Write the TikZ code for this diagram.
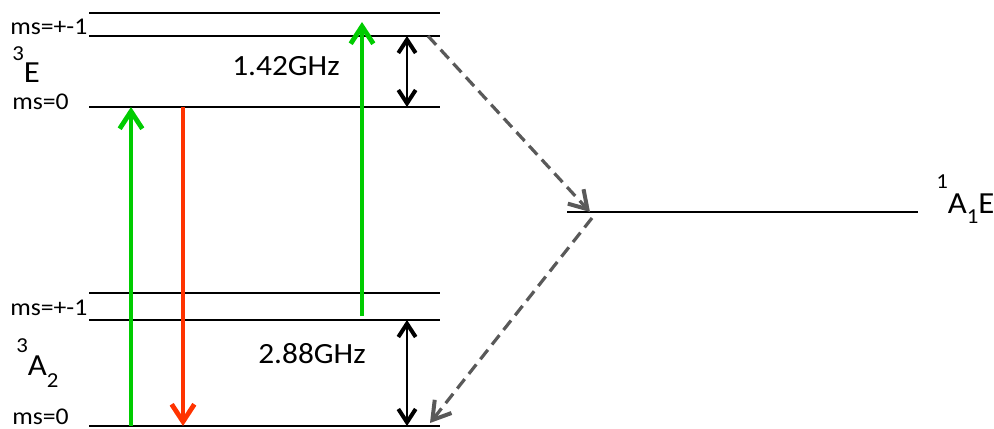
\documentclass[tikz,border=0pt]{standalone}
\usepackage{fontspec}
\setmainfont{Carlito}
\usetikzlibrary{arrows.meta}
\definecolor{PumpGreen}{HTML}{00CC00}
\definecolor{GlowRed}{HTML}{FF3300}
\definecolor{DecayGrey}{HTML}{595959}
\newcommand{\wide}[1]{\scalebox{1.07}[1]{#1}}
\newcommand{\sz}[1]{\fontsize{#1}{#1}\selectfont}

\begin{document}
\begin{tikzpicture}[x=0.75pt, y=-0.75pt,
    level/.style={line width=1.8pt},
    pump/.style={PumpGreen, line width=3.6pt, -{Straight Barb[length=13pt, width=17pt]}},
    glow/.style={GlowRed, line width=3.6pt, -{Straight Barb[length=13pt, width=17pt]}},
    gap/.style={line width=1.6pt,
      {Straight Barb[length=10pt, width=13pt, line width=3pt]}-{Straight Barb[length=10pt, width=13pt, line width=3pt]}},
    decay/.style={DecayGrey, line width=2.4pt, dash pattern=on 9pt off 5pt,
      -{Straight Barb[length=13pt, width=16pt, line width=3pt]}},
    txt/.style={inner sep=0pt, anchor=base west},
    ms/.style={txt, font=\sz{18}},
    term/.style={txt, font=\sz{23}},
    ghz/.style={txt, font=\sz{22}}]
  \useasboundingbox (0,0) rectangle (994,428);

  % triplet levels
  \foreach \yy/\lv in {13/eTop, 36/eMid, 107/eLow, 293/gTop, 320/gMid, 426/gLow}{
    \coordinate (\lv-l) at (89,\yy);
    \coordinate (\lv-r) at (440,\yy);
    \draw[level] (\lv-l) -- (\lv-r);
  }
  % singlet level
  \coordinate (sing-l) at (567,212);
  \coordinate (sing-r) at (918,212);
  \draw[level] (sing-l) -- (sing-r);

  \node[ms] (msE1) at (10,35) {\wide{ms=+-1}};
  \node[ms] (msE0) at (12,109) {\wide{ms=0}};
  \node[ms] (msG1) at (10,315) {\wide{ms=+-1}};
  \node[ms] (msG0) at (12,424) {\wide{ms=0}};
  \node[term] (termE) at (12,83) {\wide{\raisebox{17pt}{\sz{16}3}E}};
  \node[term] (termA) at (16,375) {\wide{\raisebox{17pt}{\sz{16}3}A\raisebox{-9pt}{\sz{16}2}}};
  \node[term] (termS) at (936,213) {\wide{\raisebox{18.75pt}{\sz{16}1}A\raisebox{-7.5pt}{\sz{16}1}E}};
  \node[ghz] (gapE) at (232,75) {\wide{1.42GHz}};
  \node[ghz] (gapG) at (258,363) {\wide{2.88GHz}};

  % optical transitions
  \coordinate (pumpA) at (131,426);
  \coordinate (pumpB) at (131,107);
  \coordinate (glowA) at (183,107);
  \coordinate (glowB) at (183,426);
  \coordinate (pumpC) at (362,316);
  \coordinate (pumpD) at (362,22);
  \draw[pump] (pumpA) -- (pumpB);
  \draw[glow] (glowA) -- (glowB);
  \draw[pump] (pumpC) -- (pumpD);

  % zero field splittings
  \coordinate (splitA) at (407,36);
  \coordinate (splitB) at (407,107);
  \coordinate (splitC) at (407,320);
  \coordinate (splitD) at (407,426);
  \draw[gap] (splitA) -- (splitB);
  \draw[gap] (splitC) -- (splitD);

  % intersystem crossing
  \coordinate (iscA) at (428,36);
  \coordinate (iscB) at (590,212);
  \coordinate (iscC) at (592,218);
  \coordinate (iscD) at (430,423);
  \draw[decay] (iscA) -- (iscB);
  \draw[decay] (iscC) -- (iscD);
\end{tikzpicture}
\end{document}
